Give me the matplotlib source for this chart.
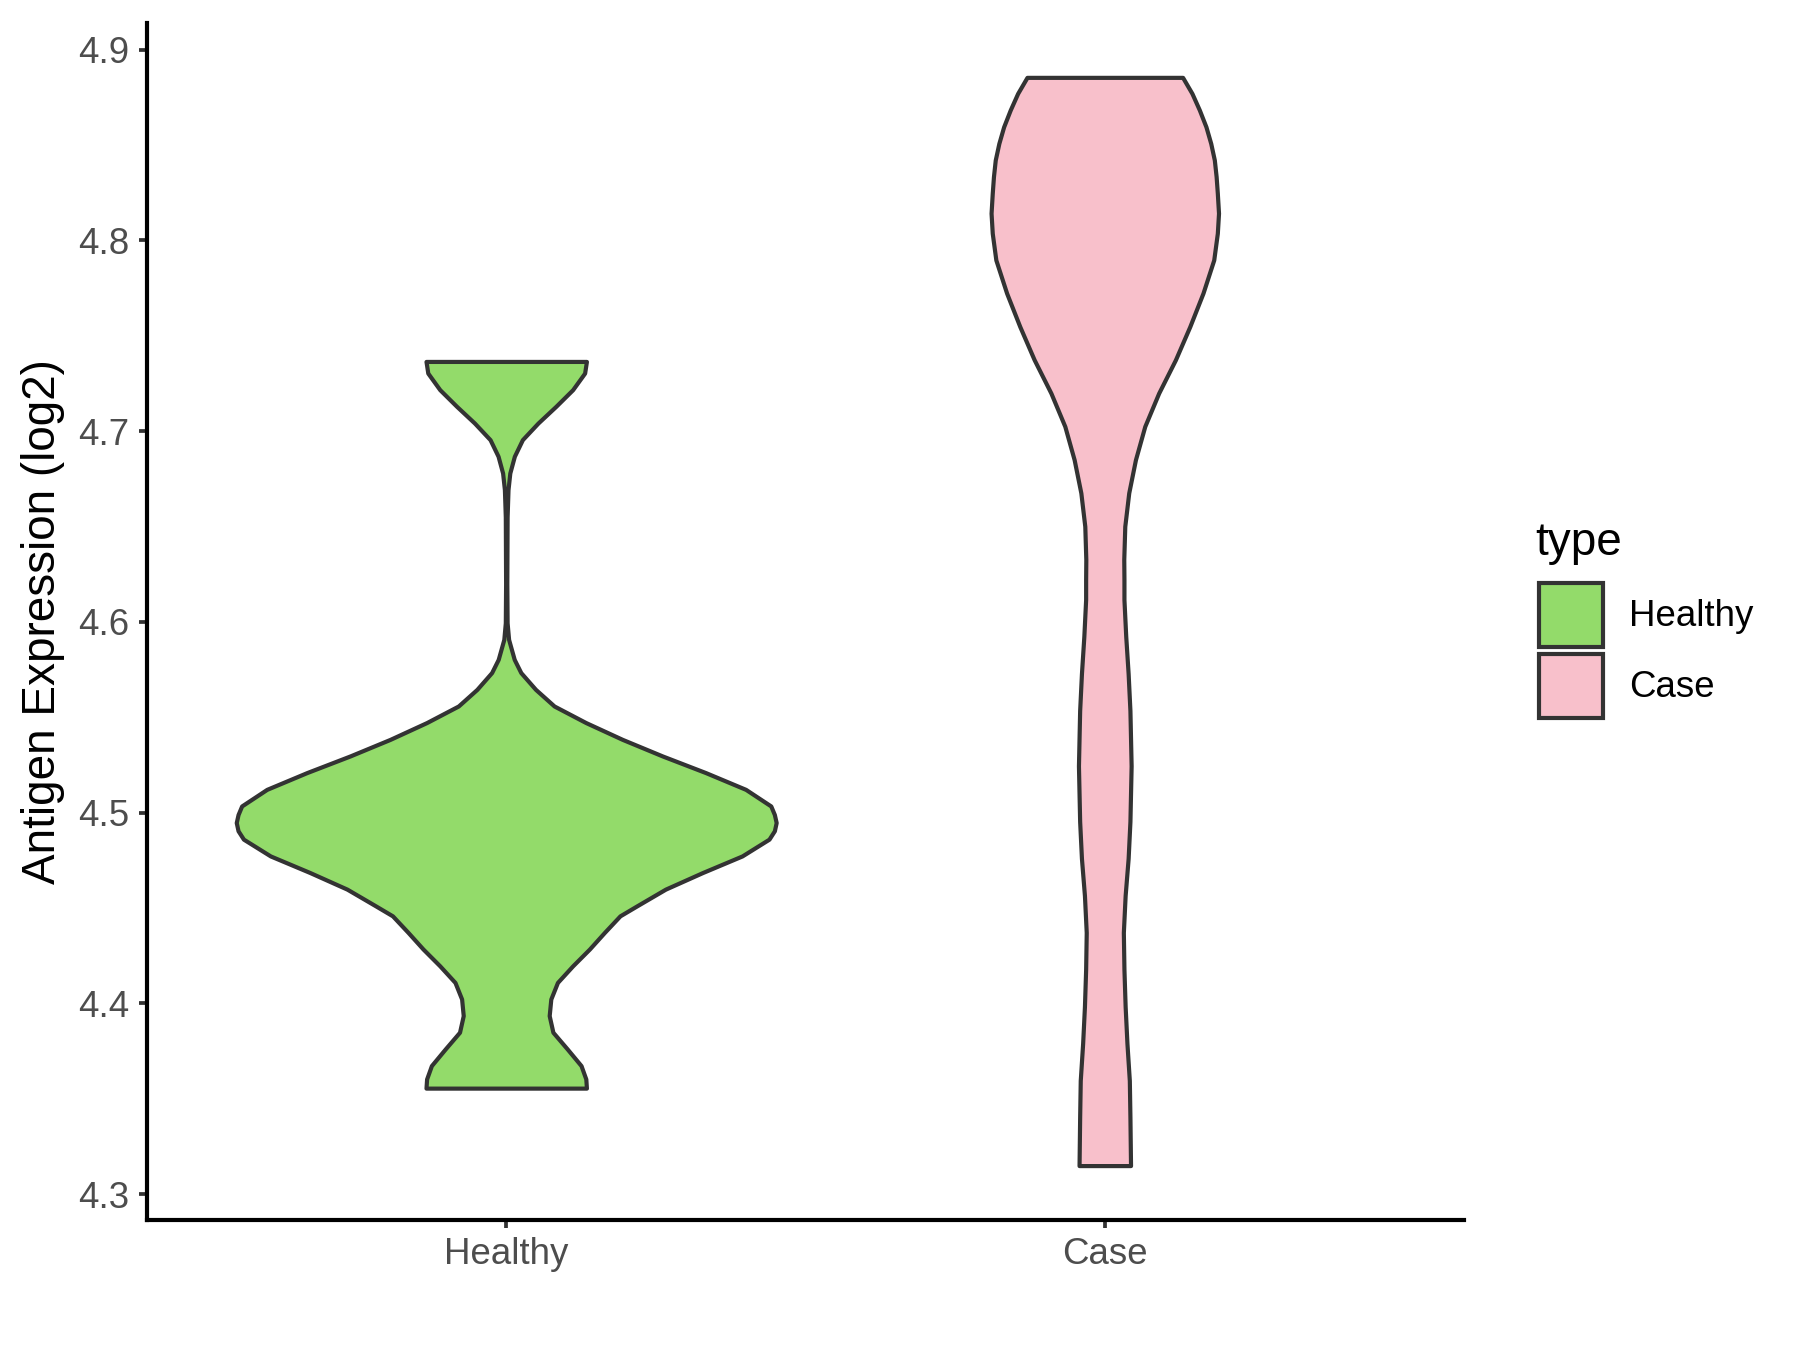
import numpy as np
import matplotlib.pyplot as plt
from matplotlib.patches import Patch

plt.rcParams['font.family'] = ['Liberation Sans', 'DejaVu Sans']

groups = ['Healthy', 'Case']
colors = ['#93DB6A', '#F8C0CB']

# violin outline: value level and half width (x units)
healthy_y = [4.7365, 4.7304, 4.7217, 4.713, 4.7042, 4.6955, 4.6868, 4.678,
             4.6693, 4.655, 4.62, 4.5995, 4.5908, 4.5803, 4.5734, 4.5646,
             4.5559, 4.5472, 4.5384, 4.5297, 4.521, 4.5122, 4.5035, 4.499,
             4.4948, 4.4905, 4.4861, 4.4773, 4.4686, 4.4599, 4.4511, 4.4459,
             4.4372, 4.4285, 4.4197, 4.411, 4.4023, 4.3936, 4.3849, 4.3761,
             4.3674, 4.3604, 4.3556]
healthy_w = [0.134, 0.131, 0.111, 0.083, 0.053, 0.027, 0.0136, 0.006,
             0.003, 0.0015, 0.001, 0.0015, 0.004, 0.0134, 0.0244, 0.049,
             0.080, 0.133, 0.194, 0.261, 0.333, 0.400, 0.442, 0.448,
             0.451, 0.448, 0.439, 0.394, 0.328, 0.266, 0.218, 0.19,
             0.164, 0.139, 0.111, 0.0856, 0.0745, 0.0718, 0.078, 0.102,
             0.125, 0.133, 0.134]

case_y = [4.8854, 4.877, 4.8683, 4.8595, 4.8508, 4.8421, 4.8334, 4.8247,
          4.8142, 4.8037, 4.7897, 4.7723, 4.7548, 4.7374, 4.7199, 4.7025,
          4.685, 4.6676, 4.6501, 4.6327, 4.6222, 4.6117, 4.5924, 4.5729,
          4.5535, 4.5245, 4.4954, 4.476, 4.4566, 4.4372, 4.4178, 4.3984,
          4.3791, 4.3596, 4.3403, 4.315]
case_w = [0.130, 0.1456, 0.158, 0.169, 0.177, 0.183, 0.186, 0.188,
          0.190, 0.188, 0.182, 0.164, 0.142, 0.118, 0.090, 0.0668,
          0.0512, 0.040, 0.0334, 0.0317, 0.032, 0.032, 0.035, 0.039,
          0.042, 0.044, 0.042, 0.039, 0.034, 0.031, 0.032, 0.034,
          0.037, 0.041, 0.042, 0.043]

profiles = [(healthy_y, healthy_w), (case_y, case_w)]

fig = plt.figure(figsize=(6, 4.5), dpi=300)
ax = fig.add_axes([0.0817, 0.0963, 0.7316, 0.8867])

for i, (yy, ww) in enumerate(profiles):
    pos = i + 1
    yy = np.array(yy)
    ww = np.array(ww)
    ax.fill_betweenx(yy, pos - ww, pos + ww, facecolor=colors[i],
                     edgecolor='#333333', linewidth=1.0, joinstyle='round')

allv = np.concatenate([healthy_y, case_y])
lo, hi = allv.min(), allv.max()
pad = (hi - lo) * 0.05
ax.set_ylim(lo - pad, hi + pad)
ax.set_xlim(0.4, 2.6)
ax.set_xticks([1, 2])
ax.set_xticklabels(groups)
ax.set_yticks([4.3, 4.4, 4.5, 4.6, 4.7, 4.8, 4.9])
ax.set_yticklabels(['4.3', '4.4', '4.5', '4.6', '4.7', '4.8', '4.9'])

for s in ['top', 'right']:
    ax.spines[s].set_visible(False)
for s in ['left', 'bottom']:
    ax.spines[s].set_linewidth(1.0)
    ax.spines[s].set_color('black')
ax.tick_params(axis='both', length=2.0, width=0.9, color='#333333',
               labelsize=8.8, labelcolor='#4D4D4D', pad=2.2)
ax.set_ylabel('Antigen Expression (log2)', fontsize=11, color='black', labelpad=3.2)

# legend: title placed separately to get the ggplot spacing
fig.text(0.853, 0.589, 'type', fontsize=11, ha='left', va='baseline')
handles = [Patch(facecolor=colors[i], edgecolor='#333333', linewidth=1.0, label=g)
           for i, g in enumerate(groups)]
leg = fig.legend(handles=handles, loc='upper left',
                 bbox_to_anchor=(0.855, 0.568), frameon=False,
                 fontsize=8.8, handlelength=1.75,
                 handleheight=2.29, labelspacing=0.2, handletextpad=0.7,
                 borderpad=0, borderaxespad=0)

fig.savefig('out.png', dpi=300)
